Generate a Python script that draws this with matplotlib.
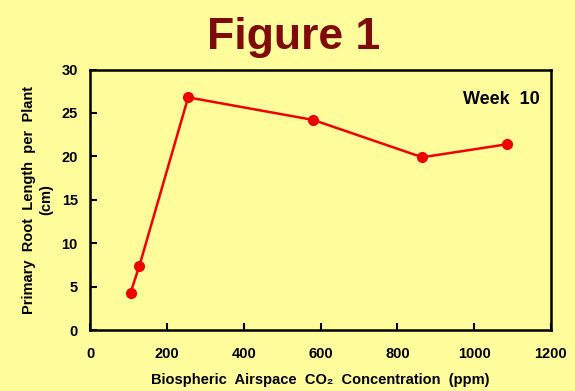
import matplotlib
matplotlib.use('Agg')
import matplotlib.pyplot as plt

co2_ppm = [105, 128, 255, 581, 865, 1086]
root_len = [4.3, 7.4, 26.8, 24.2, 19.9, 21.4]
x_ticks = [0, 200, 400, 600, 800, 1000, 1200]
y_ticks = [0, 5, 10, 15, 20, 25, 30]

plt.rcParams['font.family'] = ['Liberation Sans', 'DejaVu Sans']
plt.rcParams['font.weight'] = 'bold'

bg = '#fffc9c'
fig = plt.figure(figsize=(5.75, 3.91), dpi=100, facecolor=bg)
ax = fig.add_axes([0.157, 0.156, 0.801, 0.666], facecolor=bg)

ax.plot(co2_ppm, root_len, '-o', color='#ee0000', linewidth=1.8, markersize=7)

ax.set_xlim(0, 1200)
ax.set_ylim(0, 30)
ax.set_xticks(x_ticks)
ax.set_yticks(y_ticks)
ax.tick_params(direction='in', length=5, width=1.5, labelsize=10.5)
ax.tick_params(axis='x', pad=12)
ax.tick_params(axis='y', pad=9)
for s in ax.spines.values():
    s.set_linewidth(1.8)
    s.set_color('black')

ax.set_xlabel('Biospheric  Airspace  CO₂  Concentration  (ppm)', fontsize=10.5,
              fontweight='bold', labelpad=9)
ax.set_ylabel('Primary  Root  Length  per  Plant\n(cm)', fontsize=10.5,
              fontweight='bold', labelpad=6, linespacing=1.25)
ax.text(0.975, 0.885, 'Week  10', transform=ax.transAxes, ha='right', va='center',
        fontsize=13, fontweight='bold')

fig.text(0.51, 0.905, 'Figure 1', ha='center', va='center', fontsize=32,
         fontweight='bold', color='#7f0a0a')

fig.savefig('out.png', dpi=100, facecolor=bg)
